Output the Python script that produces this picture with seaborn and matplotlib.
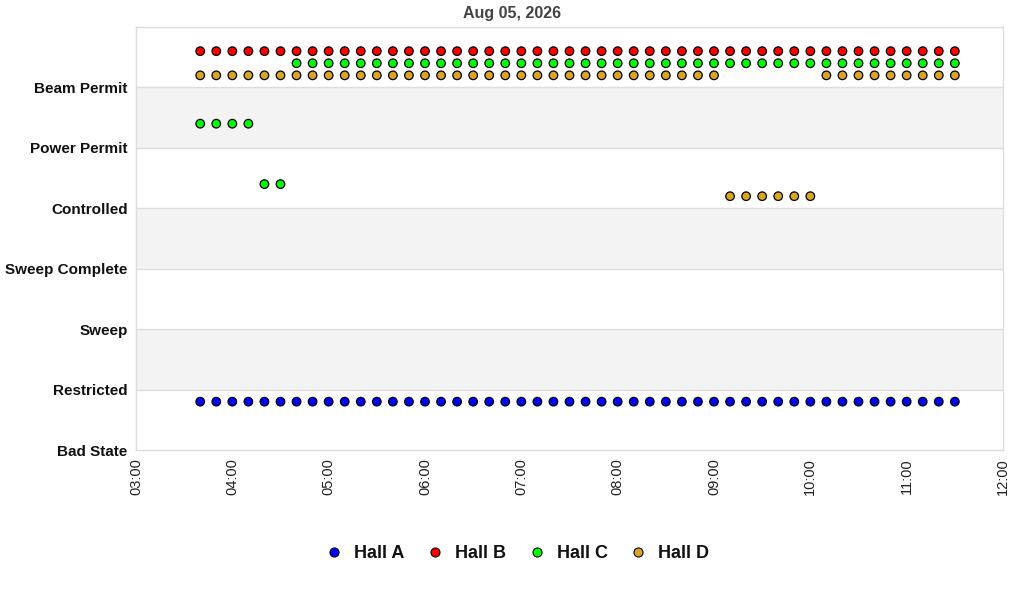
import pandas as pd
import numpy as np
import matplotlib
matplotlib.use("Agg")
import matplotlib.pyplot as plt
import matplotlib.dates as mdates
import seaborn as sns

states = ["Bad State", "Restricted", "Sweep", "Sweep Complete",
          "Controlled", "Power Permit", "Beam Permit"]

times = [
    "03:40", "03:50", "04:00", "04:10", "04:20", "04:30", "04:40", "04:50",
    "05:00", "05:10", "05:20", "05:30", "05:40", "05:50", "06:00", "06:10",
    "06:20", "06:30", "06:40", "06:50", "07:00", "07:10", "07:20", "07:30",
    "07:40", "07:50", "08:00", "08:10", "08:20", "08:30", "08:40", "08:50",
    "09:00", "09:10", "09:20", "09:30", "09:40", "09:50", "10:00", "10:10",
    "10:20", "10:30", "10:40", "10:50", "11:00", "11:10", "11:20", "11:30",
]

hall_a = ["Bad State"] * 48
hall_b = ["Beam Permit"] * 48
hall_c = ["Power Permit"] * 4 + ["Controlled"] * 2 + ["Beam Permit"] * 42
hall_d = ["Beam Permit"] * 33 + ["Controlled"] * 6 + ["Beam Permit"] * 9

halls = {"Hall A": hall_a, "Hall B": hall_b, "Hall C": hall_c, "Hall D": hall_d}
colors = {"Hall A": "#0000ff", "Hall B": "#ff0000", "Hall C": "#00ff00", "Hall D": "#daa520"}
offset = {"Hall A": 0.8, "Hall B": 0.6, "Hall C": 0.4, "Hall D": 0.2}

rows = []
for hall, vals in halls.items():
    for t, s in zip(times, vals):
        rows.append({"time": pd.Timestamp("2026-08-05 " + t),
                     "y": states.index(s) + offset[hall], "hall": hall})
df = pd.DataFrame(rows)

sns.set_style("white")
plt.rcParams["font.family"] = ["Liberation Sans", "DejaVu Sans"]

fig = plt.figure(figsize=(10.24, 6), dpi=100)
ax = fig.add_axes([0.1328, 0.25, 0.8467, 0.705])

# alternating bands
for i in range(len(states)):
    if i % 2 == 1:
        ax.axhspan(i, i + 1, color="#f3f3f3", zorder=0, lw=0)
for i in range(1, len(states)):
    ax.axhline(i, color="#dddddd", lw=1, zorder=0.5)

sns.scatterplot(data=df, x="time", y="y", hue="hall", palette=colors,
                s=38, edgecolor="black", linewidth=0.9, ax=ax, zorder=3,
                legend=False)

ax.set_xlim(pd.Timestamp("2026-08-05 03:00"), pd.Timestamp("2026-08-05 12:00"))
ax.set_ylim(0, 7)
ax.set_yticks(range(len(states)))
ax.set_yticklabels(states, fontsize=11, fontweight="bold", color="#111111")
ax.xaxis.set_major_locator(mdates.HourLocator())
ax.xaxis.set_major_formatter(mdates.DateFormatter("%H:%M"))
plt.setp(ax.get_xticklabels(), rotation=90, fontsize=10.5, color="#222222")
ax.tick_params(axis="both", length=0, pad=6)
ax.set_xlabel("")
ax.set_ylabel("")
for sp in ax.spines.values():
    sp.set_color("#dddddd")
    sp.set_linewidth(1)

fig.suptitle("Aug 05, 2026", y=0.99, fontsize=11.5, fontweight="bold", color="#444444")

handles = [plt.Line2D([], [], marker="o", ls="", markersize=6.5,
                      markerfacecolor=colors[h], markeredgecolor="black",
                      markeredgewidth=0.8, label=h) for h in halls]
fig.legend(handles=handles, loc="center", bbox_to_anchor=(0.505, 0.077), ncol=4,
           frameon=False, prop={"size": 13, "weight": "bold"},
           handlelength=1.0, handletextpad=0.6, columnspacing=1.2,
           labelcolor="#111111")

fig.savefig("out.png", dpi=100)
